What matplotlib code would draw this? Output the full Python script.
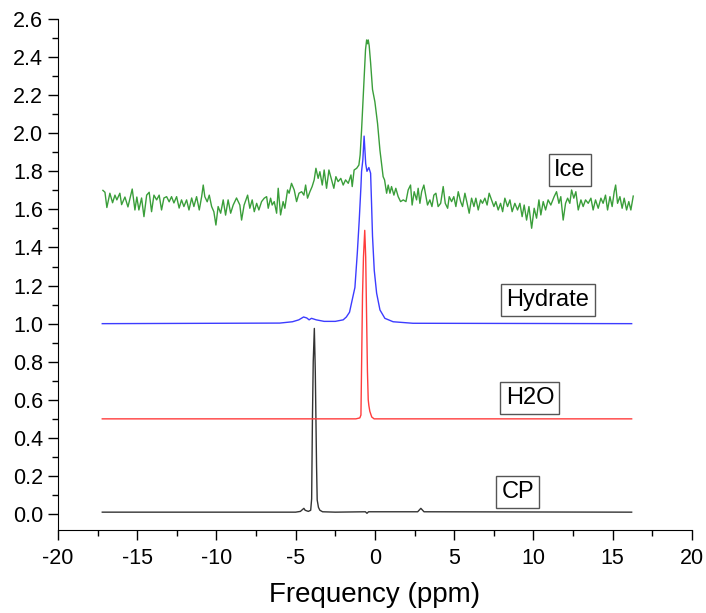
import matplotlib
matplotlib.use('Agg')
from matplotlib import pyplot as plt
from matplotlib.ticker import MultipleLocator, FormatStrFormatter

plt.rcParams['font.family'] = ['Liberation Sans', 'DejaVu Sans']
plt.rcParams['axes.unicode_minus'] = False

# --- data (ppm, intensity) ---
cp_x = [-17.2, -5.0, -4.7, -4.55, -4.48, -4.4, -4.2, -4.05, -3.99, -3.94, -3.89,
        -3.82, -3.76, -3.72, -3.68, -3.64, -3.56, -3.47, -3.3, -2.5, -0.6, -0.5,
        -0.4, 2.7, 2.9, 3.1, 16.2]
cp_y = [0.01, 0.01, 0.014, 0.025, 0.03, 0.02, 0.014, 0.02, 0.08, 0.5, 0.8,
        0.975, 0.75, 0.5, 0.25, 0.074, 0.035, 0.02, 0.012, 0.01, 0.012, 0.004,
        0.012, 0.012, 0.03, 0.012, 0.01]

h2o_x = [-17.2, -1.2, -0.95, -0.88, -0.82, -0.78, -0.72, -0.64, -0.58, -0.52,
         -0.47, -0.42, -0.38, -0.32, -0.2, -0.05, 16.2]
h2o_y = [0.5, 0.5, 0.505, 0.52, 0.9, 1.15, 1.35, 1.49, 1.35, 1.02,
         0.75, 0.6, 0.57, 0.54, 0.51, 0.5, 0.5]

hyd_x = [-17.2, -6.0, -5.2, -4.8, -4.5, -4.3, -4.15, -4.0, -3.7, -3.2, -2.5,
         -2.0, -1.8, -1.6, -1.47, -1.26, -1.11, -0.99, -0.88, -0.84, -0.76,
         -0.68, -0.58, -0.5, -0.38, -0.27, -0.21, -0.15, -0.04, 0.11, 0.32,
         0.63, 1.15, 2.4, 16.2]
hyd_y = [1.0, 1.003, 1.01, 1.02, 1.035, 1.03, 1.02, 1.028, 1.02, 1.012, 1.012,
         1.02, 1.035, 1.06, 1.11, 1.19, 1.37, 1.54, 1.72, 1.80, 1.86,
         1.985, 1.84, 1.80, 1.82, 1.79, 1.63, 1.46, 1.28, 1.16, 1.072,
         1.028, 1.01, 1.002, 1.0]

ice_x = [-17.16, -17.03, -16.91, -16.72, -16.55, -16.40, -16.28, -16.09, -15.98,
         -15.77, -15.58, -15.31, -15.14, -15.02, -14.89, -14.72, -14.57, -14.40,
         -14.24, -14.09, -13.94, -13.77, -13.61, -13.46, -13.31, -13.14, -12.98,
         -12.83, -12.68, -12.51, -12.35, -12.20, -12.05, -11.88, -11.73, -11.56,
         -11.42, -11.25, -11.08, -10.93, -10.83, -10.73, -10.58, -10.45, -10.30,
         -10.16, -10.03, -9.89, -9.73, -9.57, -9.42, -9.26, -9.10, -8.94, -8.73,
         -8.52, -8.41, -8.25, -8.03, -7.89, -7.74, -7.61, -7.46, -7.32, -7.15,
         -6.98, -6.83, -6.73, -6.58, -6.48, -6.35, -6.20, -6.10, -5.95, -5.79,
         -5.68, -5.51, -5.41, -5.26, -5.09, -4.94, -4.79, -4.62, -4.48, -4.37,
         -4.25, -4.10, -3.96, -3.83, -3.72, -3.58, -3.47, -3.32, -3.20, -3.05,
         -2.90, -2.73, -2.59, -2.46, -2.32, -2.15, -2.00, -1.85, -1.68, -1.51,
         -1.43, -1.31, -1.15, -1.01, -0.93, -0.84, -0.74, -0.59, -0.52, -0.47,
         -0.42, -0.36, -0.27, -0.15, 0.00, 0.17, 0.32, 0.42, 0.52, 0.61,
         0.74, 0.84, 0.95, 1.05, 1.20, 1.32, 1.47, 1.62, 1.79, 1.96,
         2.10, 2.25, 2.35, 2.48, 2.63, 2.73, 2.84, 2.95, 3.09, 3.22,
         3.32, 3.47, 3.60, 3.72, 3.85, 3.99, 4.15, 4.31, 4.44, 4.59,
         4.69, 4.84, 4.98, 5.11, 5.26, 5.41, 5.53, 5.68, 5.82, 5.95,
         6.10, 6.25, 6.37, 6.52, 6.67, 6.79, 6.94, 7.08, 7.21, 7.36,
         7.51, 7.63, 7.78, 7.93, 8.06, 8.20, 8.37, 8.52, 8.66, 8.83,
         9.00, 9.15, 9.29, 9.42, 9.57, 9.72, 9.89, 10.05, 10.20, 10.35,
         10.47, 10.62, 10.77, 10.93, 11.10, 11.31, 11.46, 11.61, 11.73, 11.88,
         12.03, 12.16, 12.30, 12.41, 12.55, 12.68, 12.83, 13.00, 13.14, 13.29,
         13.46, 13.63, 13.77, 13.92, 14.09, 14.26, 14.40, 14.55, 14.68, 14.83,
         14.97, 15.10, 15.19, 15.31, 15.46, 15.60, 15.73, 15.88, 16.02, 16.15,
         16.30]
ice_y = [1.70, 1.69, 1.61, 1.685, 1.635, 1.675, 1.65, 1.685, 1.625,
         1.665, 1.613, 1.707, 1.597, 1.665, 1.597, 1.66, 1.562, 1.675,
         1.69, 1.588, 1.675, 1.65, 1.675, 1.597, 1.66, 1.667, 1.64,
         1.667, 1.634, 1.667, 1.607, 1.65, 1.615, 1.65, 1.597, 1.66,
         1.615, 1.667, 1.597, 1.667, 1.728, 1.667, 1.64, 1.675, 1.615,
         1.588, 1.518, 1.615, 1.58, 1.65, 1.57, 1.65, 1.58, 1.623, 1.66,
         1.623, 1.544, 1.623, 1.675, 1.606, 1.65, 1.588, 1.632, 1.597, 1.641,
         1.659, 1.667, 1.606, 1.659, 1.623, 1.641, 1.58, 1.711, 1.571, 1.641,
         1.606, 1.702, 1.685, 1.737, 1.702, 1.641, 1.685, 1.693, 1.675, 1.728,
         1.659, 1.693, 1.72, 1.755, 1.816, 1.763, 1.798, 1.728, 1.807, 1.711,
         1.807, 1.755, 1.711, 1.772, 1.746, 1.763, 1.728, 1.755, 1.737, 1.781,
         1.72, 1.807, 1.816, 1.833, 1.886, 2.017, 2.19, 2.44, 2.49, 2.47,
         2.49, 2.46, 2.37, 2.23, 2.165, 2.05, 1.91, 1.84, 1.772, 1.755,
         1.685, 1.728, 1.685, 1.72, 1.675, 1.711, 1.667, 1.641, 1.65, 1.641,
         1.702, 1.728, 1.623, 1.693, 1.65, 1.711, 1.632, 1.693, 1.728, 1.667,
         1.623, 1.65, 1.615, 1.675, 1.685, 1.615, 1.632, 1.72, 1.632, 1.606,
         1.667, 1.641, 1.667, 1.615, 1.693, 1.641, 1.615, 1.685, 1.632, 1.58,
         1.659, 1.615, 1.659, 1.597, 1.65, 1.632, 1.659, 1.623, 1.685, 1.65,
         1.615, 1.641, 1.597, 1.632, 1.588, 1.659, 1.615, 1.65, 1.588, 1.632,
         1.597, 1.632, 1.562, 1.623, 1.544, 1.615, 1.501, 1.606, 1.554, 1.65,
         1.571, 1.641, 1.597, 1.65, 1.623, 1.667, 1.693, 1.632, 1.667, 1.544,
         1.632, 1.659, 1.632, 1.702, 1.659, 1.693, 1.597, 1.65, 1.615, 1.65,
         1.632, 1.659, 1.597, 1.65, 1.606, 1.659, 1.632, 1.675, 1.597, 1.667,
         1.615, 1.693, 1.728, 1.632, 1.667, 1.606, 1.659, 1.597, 1.641, 1.597,
         1.67]

labels = ['Ice', 'Hydrate', 'H2O', 'CP']
label_x = [12.3, 10.92, 9.78, 9.02]
label_y = [1.807, 1.124, 0.609, 0.116]

fig = plt.figure(figsize=(7.06, 6.13), dpi=100)
ax = fig.add_axes([0.082, 0.135, 0.898, 0.834])

ax.plot(cp_x, cp_y, color='#333333', linewidth=1)
ax.plot(h2o_x, h2o_y, color='#ff3c3c', linewidth=1)
ax.plot(hyd_x, hyd_y, color='#3c3cff', linewidth=1)
ax.plot(ice_x, ice_y, color='#3a9e3a', linewidth=1)

for name, tx, ty in zip(labels, label_x, label_y):
    ax.text(tx, ty, name, fontsize=17, ha='center', va='center',
            bbox=dict(boxstyle='square,pad=0.22', fc='white', ec='#555555', lw=1))

ax.set_xlim(-20, 20)
ax.set_ylim(-0.085, 2.6)
ax.xaxis.set_major_locator(MultipleLocator(5))
ax.xaxis.set_minor_locator(MultipleLocator(2.5))
ax.yaxis.set_major_locator(MultipleLocator(0.2))
ax.yaxis.set_minor_locator(MultipleLocator(0.1))
ax.yaxis.set_major_formatter(FormatStrFormatter('%.1f'))
ax.tick_params(which='major', direction='out', length=7, width=1, labelsize=15.5)
ax.tick_params(axis='x', which='major', pad=6)
ax.tick_params(which='minor', direction='out', length=4, width=1)
ax.spines['top'].set_visible(False)
ax.spines['right'].set_visible(False)
ax.set_xlabel('Frequency (ppm)', fontsize=20, labelpad=9)

plt.savefig('out.png', dpi=100)
